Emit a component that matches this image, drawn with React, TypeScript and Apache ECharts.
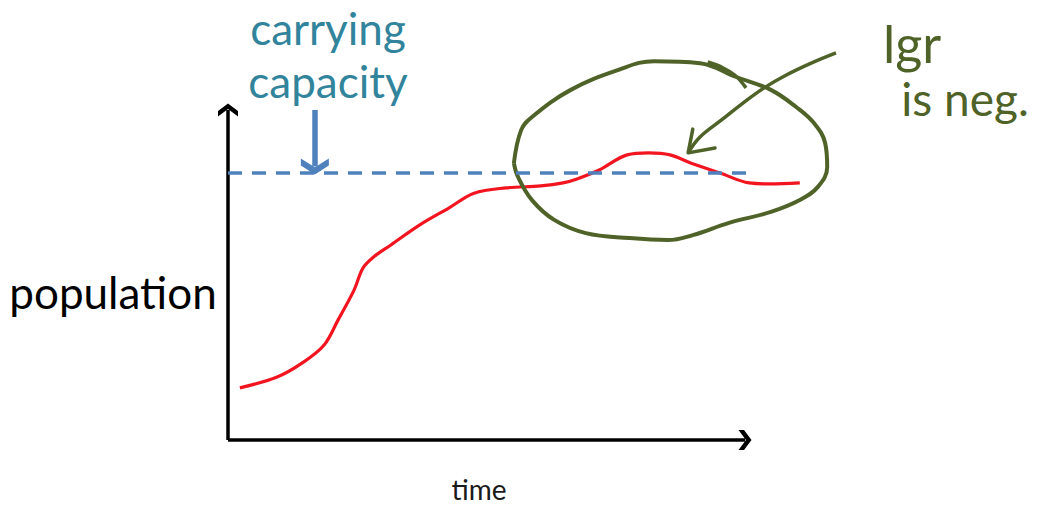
import React, { useEffect, useRef } from 'react';
import * as echarts from 'echarts';

// Red population curve (time, population)
const timeValues = [2.3, 9.5, 14.3, 18.6, 21.3, 24.4, 26.1, 28.2, 31.5, 37.1, 42.7, 47.6, 53.8, 60.5, 64.8, 67.5, 71.8, 77.2, 81.4, 85.5, 89.6, 95.2, 100.8, 104.8, 110.6];
const populationValues = [15.8, 19.1, 23.3, 28.8, 36.4, 45.5, 52.1, 55.5, 59.1, 65.2, 70.3, 74.8, 76.4, 77.0, 77.9, 79.1, 81.8, 86.4, 87.0, 86.4, 83.9, 80.9, 77.9, 77.6, 77.9];

// Carrying capacity level and its pointer
const carryingCapacity = 80.9;
const capacityLineEnd = 100.4;
const pointerTime = 16.8;
const pointerTop = 100;
const pointerBottom = 82.9;

// Axis extents (arrow tips)
const timeAxisEnd = 100;
const populationAxisEnd = 100;

// Hand-drawn annotation circle (time, population)
const circleTime = [55.3, 56.7, 58.8, 66.3, 75.4, 82.4, 91.3, 98.3, 105.0, 109.9, 113.3, 115.5, 115.9, 114.1, 110.6, 105.0, 96.9, 89.9, 85.1, 77.6, 69.2, 63.1, 58.8, 56.1, 55.3];
const circlePopulation = [83.9, 93.9, 97.9, 106.1, 112.1, 114.8, 114.2, 110.0, 106.1, 100.9, 96.1, 90.0, 82.7, 76.7, 72.7, 69.1, 65.8, 62.1, 60.6, 61.2, 62.7, 66.7, 72.7, 79.7, 83.9];
const strokeTime = [92.8, 95.2, 98.0, 100.2];
const strokePopulation = [114.6, 113.2, 110.6, 106.7];

// Hand-drawn pointer arrow
const arrowTime = [117.6, 112.8, 108.0, 103.7, 99.6, 95.4, 91.3, 89.0];
const arrowPopulation = [117.3, 114.2, 110.6, 106.7, 102.1, 96.9, 91.8, 87.0];
const arrowHeadTime = [89.9, 89.0, 94.2];
const arrowHeadPopulation = [94.2, 87.0, 88.5];

const pair = (xs: number[], ys: number[]) => xs.map((x, i) => [x, ys[i]]);

const chevron = 'path://M0,8 L10,0 L20,8 L20,14 L10,6 L0,14 Z';
const chevronBold = 'path://M0,8 L10,0 L20,8 L20,14.5 L10,6.5 L0,14.5 Z';

const green = '#4F6228';
const blue = '#4F81BD';

export default function App() {
  const ref = useRef<HTMLDivElement>(null);
  useEffect(() => {
    if (!ref.current) return;
    const chart = echarts.init(ref.current, null, { renderer: 'svg' });
    chart.setOption({
      animation: false,
      grid: { left: 228, top: 110, width: 620.4, height: 330 },
      xAxis: { type: 'value', min: 0, max: 120, show: false },
      yAxis: { type: 'value', min: 0, max: 100, show: false },
      series: [
        {
          type: 'line',
          name: 'axes',
          data: [],
          silent: true,
          z: 1,
          markLine: {
            silent: true,
            label: { show: false },
            emphasis: { disabled: true },
            symbol: ['none', chevron],
            lineStyle: { color: '#000', width: 3.5, type: 'solid' },
            data: [
              [{ coord: [0, 0], symbol: 'none' }, { coord: [timeAxisEnd, 0], symbol: chevron, symbolSize: [20, 13] }],
              [{ coord: [0, 0], symbol: 'none' }, { coord: [0, populationAxisEnd], symbol: chevron, symbolSize: [20, 13] }],
            ],
          },
        },
        {
          type: 'line',
          name: 'carrying capacity',
          data: [],
          silent: true,
          z: 2,
          markLine: {
            silent: true,
            label: { show: false },
            emphasis: { disabled: true },
            data: [
              [
                { coord: [0, carryingCapacity], symbol: 'none', lineStyle: { color: blue, width: 3.5, type: [14, 10] } },
                { coord: [capacityLineEnd, carryingCapacity], symbol: 'none' },
              ],
              [
                { coord: [pointerTime, pointerTop], symbol: 'none', lineStyle: { color: blue, width: 5.5, type: 'solid' } },
                { coord: [pointerTime, pointerBottom], symbol: chevronBold, symbolSize: [28, 16] },
              ],
            ],
          },
        },
        {
          type: 'line',
          name: 'population',
          data: pair(timeValues, populationValues),
          smooth: 0.35,
          symbol: 'none',
          silent: true,
          z: 3,
          lineStyle: { color: '#F2151F', width: 3.2 },
        },
        {
          type: 'line',
          name: 'circle',
          data: pair(circleTime, circlePopulation),
          smooth: 0.4,
          symbol: 'none',
          clip: false,
          silent: true,
          z: 4,
          lineStyle: { color: green, width: 4 },
        },
        {
          type: 'line',
          name: 'circle stroke',
          data: pair(strokeTime, strokePopulation),
          smooth: 0.4,
          symbol: 'none',
          clip: false,
          silent: true,
          z: 4,
          lineStyle: { color: green, width: 3.5 },
        },
        {
          type: 'line',
          name: 'arrow',
          data: pair(arrowTime, arrowPopulation),
          smooth: 0.4,
          symbol: 'none',
          clip: false,
          silent: true,
          z: 4,
          lineStyle: { color: green, width: 3.5 },
        },
        {
          type: 'line',
          name: 'arrow head',
          data: pair(arrowHeadTime, arrowHeadPopulation),
          symbol: 'none',
          clip: false,
          silent: true,
          z: 4,
          lineStyle: { color: green, width: 3.5, cap: 'round', join: 'round' },
        },
      ],
      graphic: [
        {
          type: 'text', x: 328, y: 28, silent: true,
          style: { text: 'carrying', fontFamily: 'Lato', fontSize: 44, fill: '#31849B', align: 'center', verticalAlign: 'middle' },
        },
        {
          type: 'text', x: 328, y: 81, silent: true,
          style: { text: 'capacity', fontFamily: 'Lato', fontSize: 44, fill: '#31849B', align: 'center', verticalAlign: 'middle' },
        },
        {
          type: 'text', x: 113, y: 292, silent: true,
          style: { text: 'population', fontFamily: 'Lato', fontSize: 44, fill: '#000', align: 'center', verticalAlign: 'middle' },
        },
        {
          type: 'text', x: 479, y: 489, silent: true,
          style: { text: 'time', fontFamily: 'Lato', fontSize: 28, fill: '#1a1a1a', align: 'center', verticalAlign: 'middle' },
        },
        {
          type: 'text', x: 912, y: 43, silent: true,
          style: { text: 'lgr', fontFamily: 'Lato', fontSize: 52, fill: green, align: 'center', verticalAlign: 'middle' },
        },
        {
          type: 'text', x: 965, y: 98, silent: true,
          style: { text: 'is neg.', fontFamily: 'Lato', fontSize: 46, fill: green, align: 'center', verticalAlign: 'middle' },
        },
      ],
    });
    return () => chart.dispose();
  }, []);
  return <div ref={ref} style={{ position: 'absolute', left: 0, top: 0, width: 1059, height: 505 }} />;
}
